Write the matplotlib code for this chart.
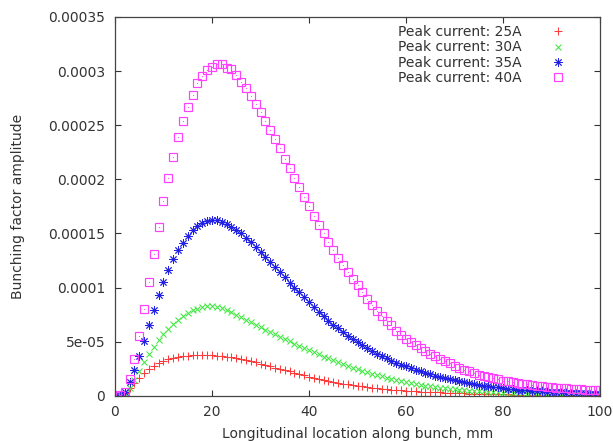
import numpy as np
import matplotlib
matplotlib.use("Agg")
import matplotlib.pyplot as plt

# longitudinal position along bunch, mm (one sample per mm)
x_mm = np.arange(0, 101)

# bunching factor amplitude, in units of 1e-5
amp_25A = [
    0.0, 0.05, 0.25, 0.7, 1.2, 1.65, 2.08, 2.45, 2.78, 3.03,
    3.23, 3.38, 3.5, 3.59, 3.65, 3.7, 3.73, 3.75, 3.76, 3.75,
    3.73, 3.7, 3.66, 3.61, 3.55, 3.48, 3.4, 3.31, 3.2, 3.09,
    2.97, 2.85, 2.72, 2.6, 2.48, 2.36, 2.24, 2.12, 2.0, 1.88,
    1.76, 1.66, 1.56, 1.46, 1.37, 1.28, 1.2, 1.12, 1.05, 0.98,
    0.92, 0.86, 0.8, 0.75, 0.7, 0.65, 0.61, 0.57, 0.53, 0.5,
    0.47, 0.44, 0.41, 0.38, 0.36, 0.34, 0.32, 0.3, 0.28, 0.26,
    0.25, 0.23, 0.22, 0.2, 0.19, 0.18, 0.17, 0.16, 0.15, 0.14,
    0.13, 0.12, 0.11, 0.1, 0.1, 0.09, 0.09, 0.08, 0.08, 0.07,
    0.07, 0.06, 0.06, 0.06, 0.05, 0.05, 0.05, 0.04, 0.04, 0.04,
    0.04,
]
amp_30A = [
    0.0, 0.03, 0.2, 0.67, 1.43, 2.3, 3.1, 3.83, 4.5, 5.12,
    5.68, 6.2, 6.65, 7.04, 7.37, 7.67, 7.9, 8.05, 8.18, 8.26,
    8.27, 8.2, 8.08, 7.92, 7.72, 7.5, 7.26, 7.0, 6.78, 6.55,
    6.33, 6.1, 5.88, 5.66, 5.44, 5.23, 5.02, 4.81, 4.6, 4.4,
    4.2, 4.0, 3.81, 3.62, 3.44, 3.26, 3.09, 2.92, 2.76, 2.6,
    2.45, 2.3, 2.16, 2.03, 1.9, 1.78, 1.66, 1.55, 1.45, 1.35,
    1.26, 1.17, 1.09, 1.01, 0.94, 0.87, 0.81, 0.75, 0.7, 0.65,
    0.6, 0.56, 0.52, 0.48, 0.45, 0.42, 0.39, 0.36, 0.34, 0.31,
    0.29, 0.27, 0.25, 0.23, 0.22, 0.2, 0.19, 0.18, 0.17, 0.16,
    0.15, 0.14, 0.13, 0.12, 0.11, 0.1, 0.1, 0.09, 0.09, 0.08,
    0.08,
]
amp_35A = [
    0.0, 0.05, 0.3, 1.25, 2.35, 3.65, 5.1, 6.5, 7.95, 9.3,
    10.55, 11.65, 12.6, 13.45, 14.15, 14.8, 15.3, 15.7, 15.97, 16.13,
    16.22, 16.2, 16.08, 15.9, 15.62, 15.32, 15.0, 14.62, 14.2, 13.75,
    13.3, 12.85, 12.4, 11.92, 11.45, 10.95, 10.45, 10.0, 9.55, 9.1,
    8.65, 8.2, 7.75, 7.35, 6.95, 6.58, 6.22, 5.88, 5.55, 5.24,
    4.94, 4.65, 4.38, 4.12, 3.88, 3.65, 3.44, 3.24, 3.05, 2.87,
    2.7, 2.54, 2.39, 2.24, 2.1, 1.97, 1.85, 1.73, 1.62, 1.52,
    1.42, 1.33, 1.24, 1.16, 1.08, 1.01, 0.94, 0.88, 0.82, 0.76,
    0.71, 0.66, 0.61, 0.57, 0.53, 0.49, 0.46, 0.43, 0.4, 0.37,
    0.35, 0.32, 0.3, 0.28, 0.26, 0.24, 0.23, 0.21, 0.2, 0.19,
    0.18,
]
amp_40A = [
    0.0, 0.05, 0.3, 1.5, 3.4, 5.5, 8.0, 10.5, 13.1, 15.6,
    18.0, 20.1, 22.1, 23.9, 25.4, 26.7, 27.8, 28.9, 29.5, 30.1,
    30.4, 30.65, 30.65, 30.3, 30.2, 29.6, 29.0, 28.4, 27.7, 26.95,
    26.2, 25.4, 24.6, 23.7, 22.9, 21.9, 21.0, 20.1, 19.3, 18.4,
    17.5, 16.6, 15.8, 15.0, 14.2, 13.5, 12.7, 12.1, 11.4, 10.8,
    10.2, 9.55, 8.95, 8.4, 7.85, 7.4, 6.95, 6.5, 6.0, 5.6,
    5.25, 4.95, 4.65, 4.4, 4.15, 3.9, 3.65, 3.42, 3.2, 2.98,
    2.78, 2.6, 2.42, 2.25, 2.1, 1.96, 1.83, 1.71, 1.6, 1.5,
    1.4, 1.32, 1.24, 1.17, 1.1, 1.04, 0.98, 0.93, 0.88, 0.83,
    0.79, 0.75, 0.71, 0.68, 0.65, 0.62, 0.59, 0.56, 0.54, 0.52,
    0.5,
]

labels = ["Peak current: 25A", "Peak current: 30A",
          "Peak current: 35A", "Peak current: 40A"]

x_ticks = [0, 20, 40, 60, 80, 100]
y_ticks = [0, 5e-05, 0.0001, 0.00015, 0.0002, 0.00025, 0.0003, 0.00035]
y_tick_labels = ["0", "5e-05", "0.0001", "0.00015", "0.0002",
                 "0.00025", "0.0003", "0.00035"]

plt.rcParams['font.family'] = ['DejaVu Sans']
text_color = '#333333'

fig = plt.figure(figsize=(6.13, 4.41), dpi=100)
ax = fig.add_axes([0.1876, 0.1027, 0.7912, 0.8588])

scale = 1e-5
ax.plot(x_mm, np.array(amp_25A) * scale, ls='none', marker='+',
        ms=6, mew=0.75, color='#ff3a3a', label=labels[0])
ax.plot(x_mm, np.array(amp_30A) * scale, ls='none', marker='x',
        ms=5, mew=0.75, color='#3ee83e', label=labels[1])
ax.plot(x_mm, np.array(amp_35A) * scale, ls='none', marker=(8, 2, 0),
        ms=6, mew=0.65, color='#2222e6', label=labels[2])
ax.plot(x_mm, np.array(amp_40A) * scale, ls='none', marker='s',
        ms=5.2, mew=0.85, mfc='none', mec='#ff40ff', label=labels[3])
# gnuplot draws a tiny dot in the middle of each open square
ax.plot(x_mm, np.array(amp_40A) * scale, ls='none', marker='o',
        ms=0.8, mew=0, color='#ff40ff')

ax.set_xlim(0, 100)
ax.set_ylim(0, 0.00035)
ax.set_xticks(x_ticks)
ax.set_yticks(y_ticks)
ax.set_yticklabels(y_tick_labels)

ax.tick_params(direction='in', length=4.5, width=0.8, top=True, right=True,
               labelsize=10, labelcolor=text_color, color='#333333', pad=7)
for sp in ax.spines.values():
    sp.set_color('#444444')
    sp.set_linewidth(0.9)

ax.set_xlabel("Longitudinal location along bunch, mm", fontsize=10,
              color=text_color)
ax.set_ylabel("Bunching factor amplitude", fontsize=10, color=text_color)
ax.xaxis.set_label_coords(0.5, -0.082)
ax.yaxis.set_label_coords(-0.186, 0.5)

ax.legend(loc='upper right', bbox_to_anchor=(566 / 613, 1 - 25 / 441),
          bbox_transform=fig.transFigure, frameon=False, markerfirst=False,
          handlelength=1.1, handletextpad=2.1, labelspacing=0.1,
          borderpad=0, borderaxespad=0, fontsize=10, labelcolor=text_color)

fig.savefig('out.png', dpi=100)
